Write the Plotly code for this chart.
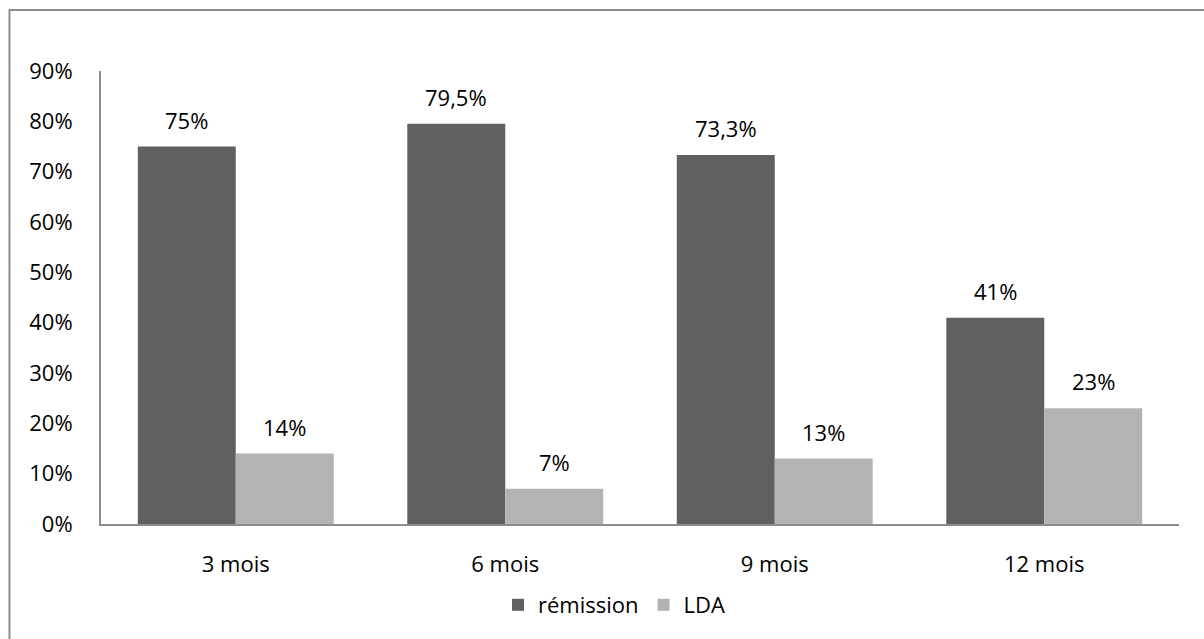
import plotly.graph_objects as go

# Données : taux de rémission et LDA par visite
categories = ["3 mois", "6 mois", "9 mois", "12 mois"]
remission = [75, 79.5, 73.3, 41]
lda = [14, 7, 13, 23]
y_ticks = [0, 10, 20, 30, 40, 50, 60, 70, 80, 90]
y_tick_labels = [f"{t}%" for t in y_ticks]

DARK = "#606060"
LIGHT = "#b3b3b3"
AXIS = "#8c8c8c"
FONT = "Open Sans, DejaVu Sans, sans-serif"

W, H = 1204, 639
ML, MR, MT, MB = 101, 25, 71, 115
PW = W - ML - MR
PH = H - MT - MB


def fmt(v):
    return f"{v:g}".replace(".", ",") + "%"


fig = go.Figure()
fig.add_trace(go.Bar(name="rémission", x=categories, y=remission,
                     marker=dict(color=DARK, line=dict(width=0))))
fig.add_trace(go.Bar(name="LDA", x=categories, y=lda,
                     marker=dict(color=LIGHT, line=dict(width=0))))

# Étiquettes de valeurs au-dessus des barres
cat_px = PW / len(categories)
bar_px = cat_px * (1 - 0.273) / 2
annotations = []
for series, shift in ((remission, -bar_px / 2), (lda, bar_px / 2)):
    for c, v in zip(categories, series):
        annotations.append(dict(
            x=c, y=v, xref="x", yref="y", text=fmt(v), showarrow=False,
            xshift=shift, yshift=27, yanchor="middle",
            font=dict(family=FONT, size=22, color="#000000")))

# Cadre du graphique
def px_x(p):
    return (p - ML) / PW


def px_y(p):
    return (H - MB - p) / PH


shapes = [dict(type="rect", xref="paper", yref="paper",
               x0=px_x(9.5), x1=px_x(1260), y0=px_y(700), y1=px_y(10),
               line=dict(color=AXIS, width=2), fillcolor="rgba(0,0,0,0)")]

fig.update_layout(
    width=W, height=H,
    margin=dict(l=ML, r=MR, t=MT, b=MB, autoexpand=False),
    paper_bgcolor="white", plot_bgcolor="white",
    barmode="group", bargap=0.273, bargroupgap=0,
    font=dict(family=FONT, size=22, color="#000000"),
    showlegend=True,
    legend=dict(orientation="h", x=px_x(614), xanchor="center",
                y=px_y(605), yanchor="middle",
                font=dict(family=FONT, size=22, color="#000000"),
                itemwidth=30, bgcolor="rgba(0,0,0,0)"),
    annotations=annotations,
    shapes=shapes,
)
fig.update_xaxes(showline=True, linecolor=AXIS, linewidth=2, showgrid=False,
                 ticks="", ticklabelstandoff=20, zeroline=False)
fig.update_yaxes(range=[0, 90], tickmode="array", tickvals=y_ticks,
                 ticktext=y_tick_labels,
                 showline=True, linecolor=AXIS, linewidth=2, showgrid=False,
                 ticks="", ticklabelstandoff=22, zeroline=False)

fig.write_html("out.html", config=dict(displayModeBar=False))
